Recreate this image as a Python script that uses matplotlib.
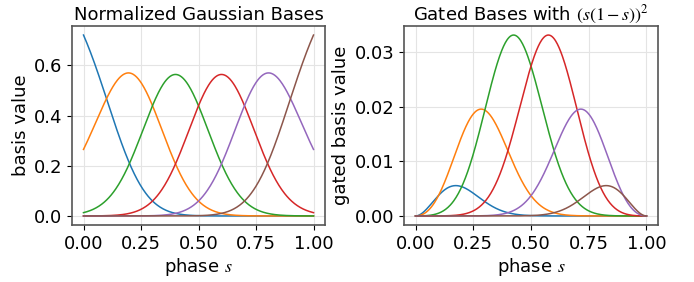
import numpy as np
import matplotlib
matplotlib.use("Agg")
import matplotlib.pyplot as plt

plt.rcParams['mathtext.fontset'] = 'stix'

# basis centres and Gaussian width (exp(-h (s - c)^2))
centers = [0.0, 0.2, 0.4, 0.6, 0.8, 1.0]
bandwidth = 25.0
xticks = [0.0, 0.25, 0.5, 0.75, 1.0]

phase = np.linspace(0, 1, 400)
raw = np.exp(-bandwidth * (phase[:, None] - np.array(centers)[None, :]) ** 2)
bases = raw / raw.sum(axis=1, keepdims=True)
gate = (phase * (1 - phase)) ** 2
gated = bases * gate[:, None]

fig = plt.figure(figsize=(6.94, 2.82), dpi=100)
ax1 = fig.add_axes([72 / 694, 57 / 282, 253 / 694, 199 / 282])
ax2 = fig.add_axes([404 / 694, 57 / 282, 254 / 694, 199 / 282])

panels = [
    (ax1, bases, "Normalized Gaussian Bases", "basis value"),
    (ax2, gated, r"Gated Bases with $(s(1-s))^2$", "gated basis value"),
]

for ax, vals, title, ylab in panels:
    for k in range(len(centers)):
        ax.plot(phase, vals[:, k], lw=1.1)
    ax.set_title(title, fontsize=13, pad=4)
    ax.set_xlabel(r"phase $s$", fontsize=13, labelpad=2)
    ax.set_ylabel(ylab, fontsize=13, labelpad=3)
    ax.set_xticks(xticks)
    ax.tick_params(labelsize=13)
    ax.grid(True, color='#e4e4e4', lw=0.8)
    ax.set_axisbelow(True)
    for sp in ax.spines.values():
        sp.set_color('#555555')
        sp.set_linewidth(1.2)

ax1.set_yticks([0.0, 0.2, 0.4, 0.6])
ax2.set_yticks([0.0, 0.01, 0.02, 0.03])

fig.savefig("out.png", dpi=100)
